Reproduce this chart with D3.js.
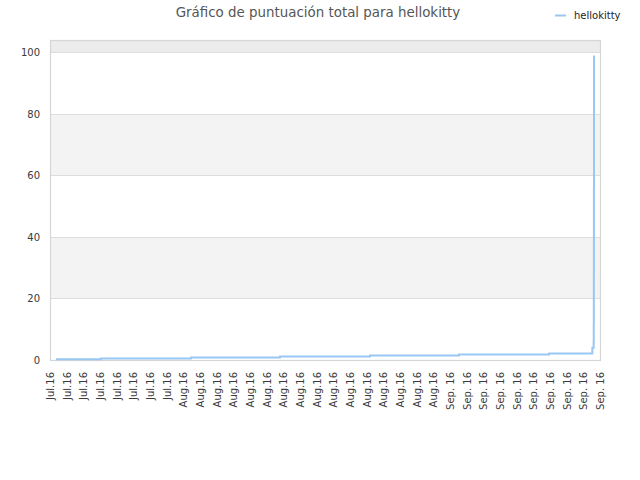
<!DOCTYPE html>
<html>
<head>
<meta charset="utf-8">
<script src="https://cdn.jsdelivr.net/npm/d3@7"></script>
<style>
  html, body { margin: 0; padding: 0; background: #fff; }
  svg { display: block; font-family: "DejaVu Sans", sans-serif; }
</style>
</head>
<body>
<svg id="chart" width="640" height="480"></svg>
<script>
const titleText = "Gráfico de puntuación total para hellokitty";
const seriesName = "hellokitty";
const xLabels = [
  "Jul.16","Jul.16","Jul.16","Jul.16","Jul.16","Jul.16","Jul.16","Jul.16",
  "Aug.16","Aug.16","Aug.16","Aug.16","Aug.16","Aug.16","Aug.16","Aug.16",
  "Aug.16","Aug.16","Aug.16","Aug.16","Aug.16","Aug.16","Aug.16","Aug.16",
  "Sep. 16","Sep. 16","Sep. 16","Sep. 16","Sep. 16","Sep. 16","Sep. 16","Sep. 16","Sep. 16","Sep. 16"
];
// positions of points along the label axis (label index units) and their scores
const pointPos = [0.36, 3.06, 8.46, 13.8, 19.2, 24.54, 29.94, 32.54, 32.62, 32.625, 32.63, 32.635, 32.64];
const pointVal = [0.25, 0.45, 0.8, 1.15, 1.45, 1.8, 2.1, 4, 6, 12, 28, 56, 99];
const yTicks = [0, 20, 40, 60, 80, 100];
const yMax = 104;

(function () {
const svg = d3.select("#chart");
const pLeft = 50, pRight = 600, pTop = 40, pBottom = 360;

const x = d3.scaleLinear().domain([0, xLabels.length - 1]).range([pLeft, pRight]);
const y = d3.scaleLinear().domain([0, yMax]).range([pBottom, pTop]);

// bands
const bandEdges = [0, 20, 40, 60, 80, 100, yMax];
for (let i = 0; i < bandEdges.length - 1; i++) {
  const fill = i === bandEdges.length - 2 ? "#ececec" : (i % 2 === 1 ? "#f3f3f3" : "#ffffff");
  svg.append("rect")
    .attr("x", pLeft).attr("width", pRight - pLeft)
    .attr("y", y(bandEdges[i + 1])).attr("height", y(bandEdges[i]) - y(bandEdges[i + 1]))
    .attr("fill", fill);
}
// grid lines
svg.append("g").selectAll("line").data(yTicks.slice(1)).join("line")
  .attr("x1", pLeft).attr("x2", pRight)
  .attr("y1", d => Math.round(y(d)) + 0.5).attr("y2", d => Math.round(y(d)) + 0.5)
  .attr("stroke", "#dddddd").attr("stroke-width", 1);
// frame
svg.append("rect")
  .attr("x", pLeft + 0.5).attr("y", pTop + 0.5)
  .attr("width", pRight - pLeft).attr("height", pBottom - pTop)
  .attr("fill", "none").attr("stroke", "#d6d6d6").attr("stroke-width", 1.2);

// y axis labels
const yAxis = d3.axisLeft(y).tickValues(yTicks).tickSize(0).tickPadding(10);
const gy = svg.append("g").attr("transform", `translate(${pLeft},0)`).call(yAxis);
gy.select(".domain").remove();
gy.selectAll("text").attr("font-size", 10).attr("fill", "#3a3a3a").attr("font-family", "DejaVu Sans");

// x axis labels
const xAxis = d3.axisBottom(x).tickValues(d3.range(xLabels.length)).tickFormat(i => xLabels[i]).tickSize(0);
const gx = svg.append("g").attr("transform", `translate(0,${pBottom})`).call(xAxis);
gx.select(".domain").remove();
gx.selectAll("text")
  .attr("font-size", 10).attr("fill", "#3a3a3a").attr("font-family", "DejaVu Sans")
  .attr("text-anchor", "end")
  .attr("transform", "translate(0,12) rotate(-90)")
  .attr("x", 0).attr("y", 0).attr("dy", "0.35em");

// line
const data = pointPos.map((p, i) => ({ p, v: pointVal[i] }));
const line = d3.line().x(d => x(d.p)).y(d => y(d.v)).curve(d3.curveStepAfter);
svg.append("path").datum(data)
  .attr("d", line)
  .attr("fill", "none").attr("stroke", "#99c7f3").attr("stroke-width", 2);

// title
svg.append("text").attr("x", 318).attr("y", 17)
  .attr("text-anchor", "middle").attr("font-size", 13.4).attr("fill", "#555")
  .text(titleText);

// legend
svg.append("line").attr("x1", 555).attr("x2", 566).attr("y1", 15.5).attr("y2", 15.5)
  .attr("stroke", "#99c7f3").attr("stroke-width", 2);
svg.append("text").attr("x", 574).attr("y", 15).attr("dy", "0.35em")
  .attr("font-size", 10).attr("fill", "#222").text(seriesName);
})();
</script>
</body>
</html>
